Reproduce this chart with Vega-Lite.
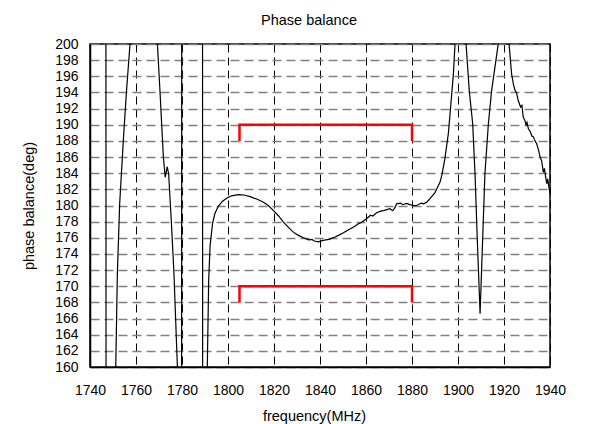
{
  "$schema": "https://vega.github.io/schema/vega-lite/v6.json",
  "width": 460,
  "height": 323,
  "autosize": {"type": "none"},
  "padding": {"left": 90, "top": 44, "right": 48, "bottom": 57},
  "background": "white",
  "title": {"text": "Phase balance", "font": "Liberation Sans", "fontSize": 14.5, "fontWeight": "normal", "color": "black", "offset": 9, "anchor": "middle", "dx": -11},
  "config": {
    "view": {"stroke": "black", "strokeWidth": 1.5},
    "axis": {"labelFont": "Liberation Sans", "titleFont": "Liberation Sans", "labelColor": "black", "titleColor": "black", "titleFontWeight": "normal", "domainColor": "black", "domainWidth": 1.5, "tickSize": 0, "labelOverlap": false}
  },
  "datasets": {
    "curve": [
      {"f": 1740, "v": 225}, {"f": 1746.9, "v": 225}, {"f": 1747.0, "v": 135},
      {"f": 1751.2, "v": 160}, {"f": 1751.9, "v": 171.6}, {"f": 1752.9, "v": 180.2},
      {"f": 1754.5, "v": 188.1}, {"f": 1755.9, "v": 194.3}, {"f": 1757.4, "v": 200},
      {"f": 1758.5, "v": 206}, {"f": 1763, "v": 215}, {"f": 1768, "v": 208},
      {"f": 1769.3, "v": 200}, {"f": 1770.4, "v": 194.3}, {"f": 1771.9, "v": 186.0},
      {"f": 1772.7, "v": 183.5}, {"f": 1773.6, "v": 184.8}, {"f": 1774.2, "v": 183.9},
      {"f": 1775.4, "v": 177.8}, {"f": 1776.5, "v": 171.6}, {"f": 1778.0, "v": 160},
      {"f": 1779.8, "v": 140}, {"f": 1779.9, "v": 225}, {"f": 1788.9, "v": 225},
      {"f": 1789.0, "v": 135}, {"f": 1791.0, "v": 160}, {"f": 1791.6, "v": 170.7},
      {"f": 1792.2, "v": 175.0}, {"f": 1793.3, "v": 177.8}, {"f": 1794.3, "v": 179.0},
      {"f": 1795.8, "v": 179.9}, {"f": 1797.5, "v": 180.5}, {"f": 1799.4, "v": 180.9},
      {"f": 1801.5, "v": 181.2}, {"f": 1804.5, "v": 181.35}, {"f": 1807, "v": 181.3},
      {"f": 1809.6, "v": 181.1}, {"f": 1812.5, "v": 180.8}, {"f": 1815.4, "v": 180.4},
      {"f": 1817.5, "v": 180.0}, {"f": 1819.7, "v": 179.4}, {"f": 1822, "v": 178.7},
      {"f": 1824.1, "v": 177.95}, {"f": 1826.3, "v": 177.3}, {"f": 1828.4, "v": 176.7},
      {"f": 1830.6, "v": 176.3}, {"f": 1832.8, "v": 176.0}, {"f": 1835, "v": 175.75},
      {"f": 1836.5, "v": 175.8}, {"f": 1837.5, "v": 175.6}, {"f": 1839.3, "v": 175.5},
      {"f": 1841, "v": 175.65}, {"f": 1842.5, "v": 175.75}, {"f": 1844, "v": 175.8},
      {"f": 1846.5, "v": 176.1}, {"f": 1848, "v": 176.3}, {"f": 1850, "v": 176.6},
      {"f": 1853, "v": 177.1}, {"f": 1855, "v": 177.4}, {"f": 1856.5, "v": 177.7},
      {"f": 1858, "v": 177.9}, {"f": 1860.3, "v": 178.4}, {"f": 1862, "v": 178.8},
      {"f": 1863, "v": 178.7}, {"f": 1864.6, "v": 179.1}, {"f": 1866.5, "v": 179.3},
      {"f": 1868, "v": 179.4}, {"f": 1870.4, "v": 179.6}, {"f": 1871.6, "v": 179.35},
      {"f": 1872.5, "v": 179.7}, {"f": 1873.3, "v": 180.2}, {"f": 1875, "v": 180.3},
      {"f": 1876, "v": 180.1}, {"f": 1877.5, "v": 180.25}, {"f": 1879.1, "v": 180.1},
      {"f": 1880.5, "v": 180.0}, {"f": 1882, "v": 180.0}, {"f": 1884, "v": 180.3},
      {"f": 1885, "v": 180.2}, {"f": 1886.4, "v": 180.4}, {"f": 1888, "v": 180.9},
      {"f": 1890, "v": 181.6}, {"f": 1891, "v": 182.2}, {"f": 1892.2, "v": 182.9},
      {"f": 1893, "v": 183.8}, {"f": 1894.3, "v": 185.8}, {"f": 1895.8, "v": 188.9},
      {"f": 1896.8, "v": 192.2}, {"f": 1898, "v": 196.3}, {"f": 1898.7, "v": 200},
      {"f": 1899.5, "v": 207}, {"f": 1901.5, "v": 212}, {"f": 1903, "v": 206},
      {"f": 1903.5, "v": 200}, {"f": 1904.9, "v": 194.2}, {"f": 1906.4, "v": 190.1},
      {"f": 1907.4, "v": 183.9}, {"f": 1908.4, "v": 175.7}, {"f": 1909.6, "v": 166.6},
      {"f": 1910.7, "v": 175.7}, {"f": 1911.7, "v": 183.9}, {"f": 1913.2, "v": 190.1},
      {"f": 1914.6, "v": 194.2}, {"f": 1917.5, "v": 200}, {"f": 1919.5, "v": 208},
      {"f": 1921.5, "v": 204}, {"f": 1922.2, "v": 200}, {"f": 1923.3, "v": 196.3},
      {"f": 1924.1, "v": 195.0}, {"f": 1924.8, "v": 194.25}, {"f": 1925.4, "v": 194.0},
      {"f": 1926.2, "v": 193.0}, {"f": 1927.2, "v": 192.2}, {"f": 1927.8, "v": 192.4},
      {"f": 1928.4, "v": 190.9}, {"f": 1929, "v": 190.6}, {"f": 1929.6, "v": 190.0},
      {"f": 1930, "v": 190.3}, {"f": 1930.6, "v": 189.5}, {"f": 1931.5, "v": 189.1},
      {"f": 1932.1, "v": 188.6}, {"f": 1932.8, "v": 188.5}, {"f": 1933.5, "v": 188.0},
      {"f": 1934.2, "v": 187.65}, {"f": 1935, "v": 186.9}, {"f": 1935.7, "v": 186.0},
      {"f": 1936.4, "v": 185.5}, {"f": 1937.1, "v": 184.1}, {"f": 1937.6, "v": 184.6},
      {"f": 1938, "v": 183.7}, {"f": 1938.6, "v": 182.7}, {"f": 1939, "v": 183.3},
      {"f": 1939.5, "v": 182.3}, {"f": 1940, "v": 181.5}
    ],
    "brackets": [
      {"f": 1805, "v": 188, "b": "upper", "o": 1},
      {"f": 1805, "v": 190, "b": "upper", "o": 2},
      {"f": 1880, "v": 190, "b": "upper", "o": 3},
      {"f": 1880, "v": 188, "b": "upper", "o": 4},
      {"f": 1805, "v": 168, "b": "lower", "o": 1},
      {"f": 1805, "v": 170, "b": "lower", "o": 2},
      {"f": 1880, "v": 170, "b": "lower", "o": 3},
      {"f": 1880, "v": 168, "b": "lower", "o": 4}
    ]
  },
  "layer": [
    {
      "data": {"name": "curve"},
      "mark": {"type": "line", "color": "black", "strokeWidth": 1.2, "clip": true},
      "encoding": {
        "x": {
          "field": "f", "type": "quantitative",
          "scale": {"domain": [1740, 1940], "nice": false, "zero": false},
          "axis": {
            "title": "frequency(MHz)", "titleFontSize": 14.5, "titlePadding": 12, "titleX": 224,
            "values": [1740, 1760, 1780, 1800, 1820, 1840, 1860, 1880, 1900, 1920, 1940],
            "tickCount": 25,
            "format": "d",
            "labelFontSize": 14, "labelPadding": 16, "labelFlush": false,
            "grid": true, "gridColor": "black", "gridDash": [8, 5], "gridWidth": 1, "gridOpacity": 1
          }
        },
        "y": {
          "field": "v", "type": "quantitative",
          "scale": {"domain": [160, 200], "nice": false, "zero": false},
          "axis": {
            "title": "phase balance(deg)", "titleFontSize": 14.5, "titlePadding": 18,
            "values": [160, 162, 164, 166, 168, 170, 172, 174, 176, 178, 180, 182, 184, 186, 188, 190, 192, 194, 196, 198, 200],
            "tickCount": 25,
            "format": "d",
            "labelFontSize": 14, "labelPadding": 12, "labelFlush": false,
            "grid": true, "gridColor": "#808080", "gridDash": [9, 5], "gridWidth": 1.5, "gridOpacity": 1
          }
        }
      }
    },
    {
      "data": {"name": "brackets"},
      "mark": {"type": "line", "color": "#ff0000", "strokeWidth": 2.5, "clip": true},
      "encoding": {
        "x": {"field": "f", "type": "quantitative"},
        "y": {"field": "v", "type": "quantitative"},
        "detail": {"field": "b", "type": "nominal"},
        "order": {"field": "o", "type": "quantitative"}
      }
    }
  ]
}
